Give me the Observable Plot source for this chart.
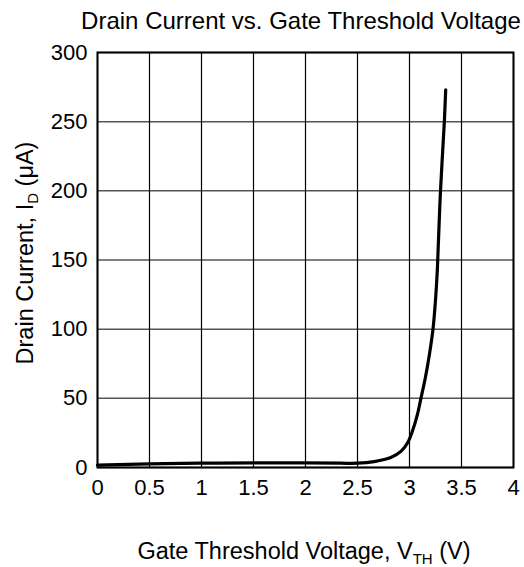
<!DOCTYPE html>
<html>
<head>
<meta charset="utf-8">
<script src="https://cdn.jsdelivr.net/npm/d3@7"></script>
<script src="https://cdn.jsdelivr.net/npm/@observablehq/plot@0.6"></script>
<style>
  html, body { margin: 0; padding: 0; background: #fff; }
  #chart { width: 524px; height: 567px; }
  svg text { font-family: "Liberation Sans", Arial, sans-serif; }
</style>
</head>
<body>
<div id="chart"></div>
<script>
const vth = [0, 0.5, 1.0, 1.5, 2.0, 2.34, 2.5, 2.66, 2.82, 2.92, 2.985, 3.03, 3.075, 3.11, 3.15, 3.19, 3.226, 3.25, 3.267, 3.275, 3.298, 3.335, 3.348];
const idUA = [1.7, 2.6, 3.1, 3.4, 3.3, 3.1, 3.1, 4.3, 7.2, 11.8, 18.3, 26.7, 38, 50, 64, 81, 100, 121, 142, 157, 200, 250, 273];
const xTicks = [0, 0.5, 1, 1.5, 2, 2.5, 3, 3.5, 4];
const yTicks = [0, 50, 100, 150, 200, 250, 300];
const titleText = "Drain Current vs. Gate Threshold Voltage";

const data = vth.map((v, i) => ({v, id: idUA[i]}));

const W = 524, H = 567;
const mL = 97, mR = 11, mT = 52, mB = 100;

const plot = Plot.plot({
  width: W, height: H,
  marginLeft: mL, marginRight: mR, marginTop: mT, marginBottom: mB,
  style: {fontFamily: "Liberation Sans, Arial, sans-serif", fontSize: "22px", color: "#000", background: "#fff"},
  x: {domain: [0, 4], ticks: xTicks, tickFormat: d => String(d), label: null},
  y: {domain: [0, 300], ticks: yTicks, label: null},
  marks: [
    Plot.ruleY(yTicks, {stroke: "#555", strokeWidth: 1.5}),
    Plot.ruleX(xTicks, {stroke: "#000", strokeWidth: 1.2}),
    Plot.frame({stroke: "#000", strokeWidth: 2}),
    Plot.axisX({ticks: xTicks, tickSize: 0, tickPadding: 12, fontSize: 22, tickFormat: d => String(d)}),
    Plot.axisY({ticks: yTicks, tickSize: 0, tickPadding: 10, fontSize: 22}),
    Plot.line(data, {x: "v", y: "id", curve: "catmull-rom", stroke: "#000", strokeWidth: 3.2, strokeLinecap: "round"})
  ]
});

document.getElementById("chart").appendChild(plot);

const svg = d3.select(plot);
svg.append("text")
  .attr("x", 301).attr("y", 29)
  .attr("text-anchor", "middle")
  .attr("font-size", 24)
  .attr("fill", "#000")
  .text(titleText);

const xl = svg.append("text")
  .attr("x", 304).attr("y", 559)
  .attr("text-anchor", "middle")
  .attr("font-size", 23.5)
  .attr("fill", "#000");
xl.append("tspan").text("Gate Threshold Voltage, V");
xl.append("tspan").attr("font-size", 15).attr("dy", 5).text("TH");
xl.append("tspan").attr("dy", -5).text(" (V)");

const yl = svg.append("text")
  .attr("transform", "translate(33,253) rotate(-90)")
  .attr("text-anchor", "middle")
  .attr("font-size", 23.5)
  .attr("fill", "#000");
yl.append("tspan").text("Drain Current, I");
yl.append("tspan").attr("font-size", 15).attr("dy", 5).text("D");
yl.append("tspan").attr("dy", -5).text(" (μA)");
</script>
</body>
</html>
